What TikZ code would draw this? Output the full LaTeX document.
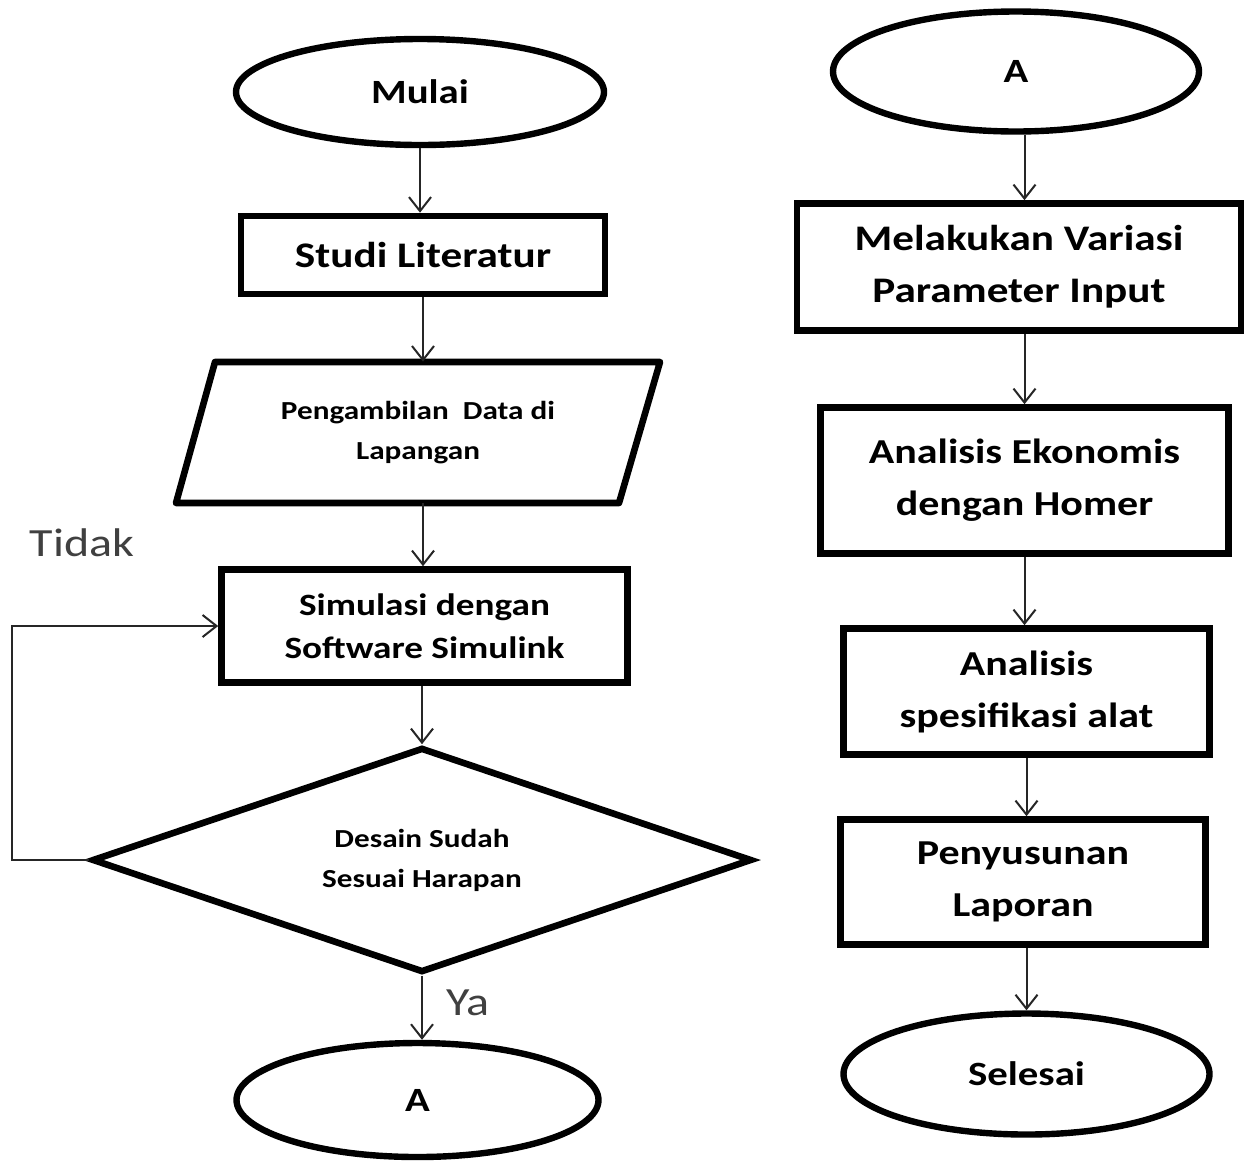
\documentclass[tikz,border=0pt]{standalone}
\usepackage{fontspec}
\setmainfont{Carlito}[FakeStretch=1.2]
\usetikzlibrary{shapes.geometric,arrows.meta}
\begin{document}
\begin{tikzpicture}[x=0.5pt,y=-0.5pt,
  box/.style={draw, line width=3.3pt, rectangle, inner sep=0pt, align=center, font=\bfseries},
  oval/.style={draw, line width=3.2pt, ellipse, inner sep=0pt, font=\bfseries\fontsize{17}{20}\selectfont},
  arr/.style={line width=1pt, draw=black!85, -{Straight Barb[length=7pt,width=11pt,line width=1pt]}},
  lbl/.style={text=black!75, font=\fontsize{20}{24}\selectfont, inner sep=0pt}]
\useasboundingbox[fill=white] (0,0) rectangle (1246,1163);
% left column
\node[oval, minimum width=184pt, minimum height=53pt] (mulai) at (420,92) {\raisebox{-2pt}{Mulai}};
\node[box, minimum width=182pt, minimum height=39pt, font=\bfseries\fontsize{18}{22}\selectfont] (studi) at (423,255) {Studi Literatur};
\draw[line width=3.3pt, line join=round] (215,362) -- (660,362) -- (619,503) -- (176,503) -- cycle;
\node[inner sep=0pt, minimum width=200pt, minimum height=70.5pt, align=center, font=\bfseries\fontsize{13}{20}\selectfont] (pd) at (418,432.5) {Pengambilan\ \ Data di\\Lapangan};
\node[box, minimum width=203pt, minimum height=56.5pt, font=\bfseries\fontsize{15.5}{21.5}\selectfont] (sim) at (424.5,626) {Simulasi dengan\\Software Simulink};
\node[draw, line width=3.3pt, diamond, aspect=2.9, inner sep=0pt, minimum width=330pt, minimum height=112.5pt, align=center, font=\bfseries\fontsize{13}{20}\selectfont] (dia) at (422,860) {Desain Sudah\\Sesuai Harapan};
\node[oval, minimum width=181pt, minimum height=57pt] (a1) at (417.5,1100) {A};
\node[lbl] (tidak) at (82,543) {Tidak};
\node[lbl] (ya) at (468,1003) {Ya};
\coordinate (lp) at (12,860);
\draw[arr] (mulai.south) -- (mulai.south |- studi.north);
\draw[arr] (studi.south) -- (studi.south |- pd.north);
\draw[arr] (studi.south |- pd.south) -- (studi.south |- sim.north);
\draw[arr] (dia.north |- sim.south) -- (dia.north);
\draw[arr] (dia.south) -- (dia.south |- a1.north);
\draw[arr] (dia.west) -- (lp) |- (sim.west);
% right column
\node[oval, minimum width=183pt, minimum height=60pt] (a2) at (1016,71.5) {A};
\node[box, minimum width=222pt, minimum height=63.5pt, font=\bfseries\fontsize{18}{26}\selectfont] (mel) at (1019,267) {Melakukan Variasi\\Parameter Input};
\node[box, minimum width=204pt, minimum height=73pt, font=\bfseries\fontsize{17.5}{26}\selectfont] (ekon) at (1024.5,480.5) {Analisis Ekonomis\\dengan Homer};
\node[box, minimum width=183pt, minimum height=63pt, font=\bfseries\fontsize{17.5}{26}\selectfont] (spec) at (1026.5,691.5) {Analisis\\spesifikasi alat};
\node[box, minimum width=182.5pt, minimum height=62.5pt, font=\bfseries\fontsize{17.5}{26}\selectfont] (pen) at (1023,882) {Penyusunan\\Laporan};
\node[oval, minimum width=183pt, minimum height=60.5pt] (sel) at (1026.5,1074) {Selesai};
\draw[arr] (ekon.north |- a2.south) -- (ekon.north |- mel.north);
\draw[arr] (ekon.north |- mel.south) -- (ekon.north);
\draw[arr] (ekon.south) -- (ekon.south |- spec.north);
\draw[arr] (spec.south) -- (spec.south |- pen.north);
\draw[arr] (sel.north |- pen.south) -- (sel.north);
\end{tikzpicture}
\end{document}
